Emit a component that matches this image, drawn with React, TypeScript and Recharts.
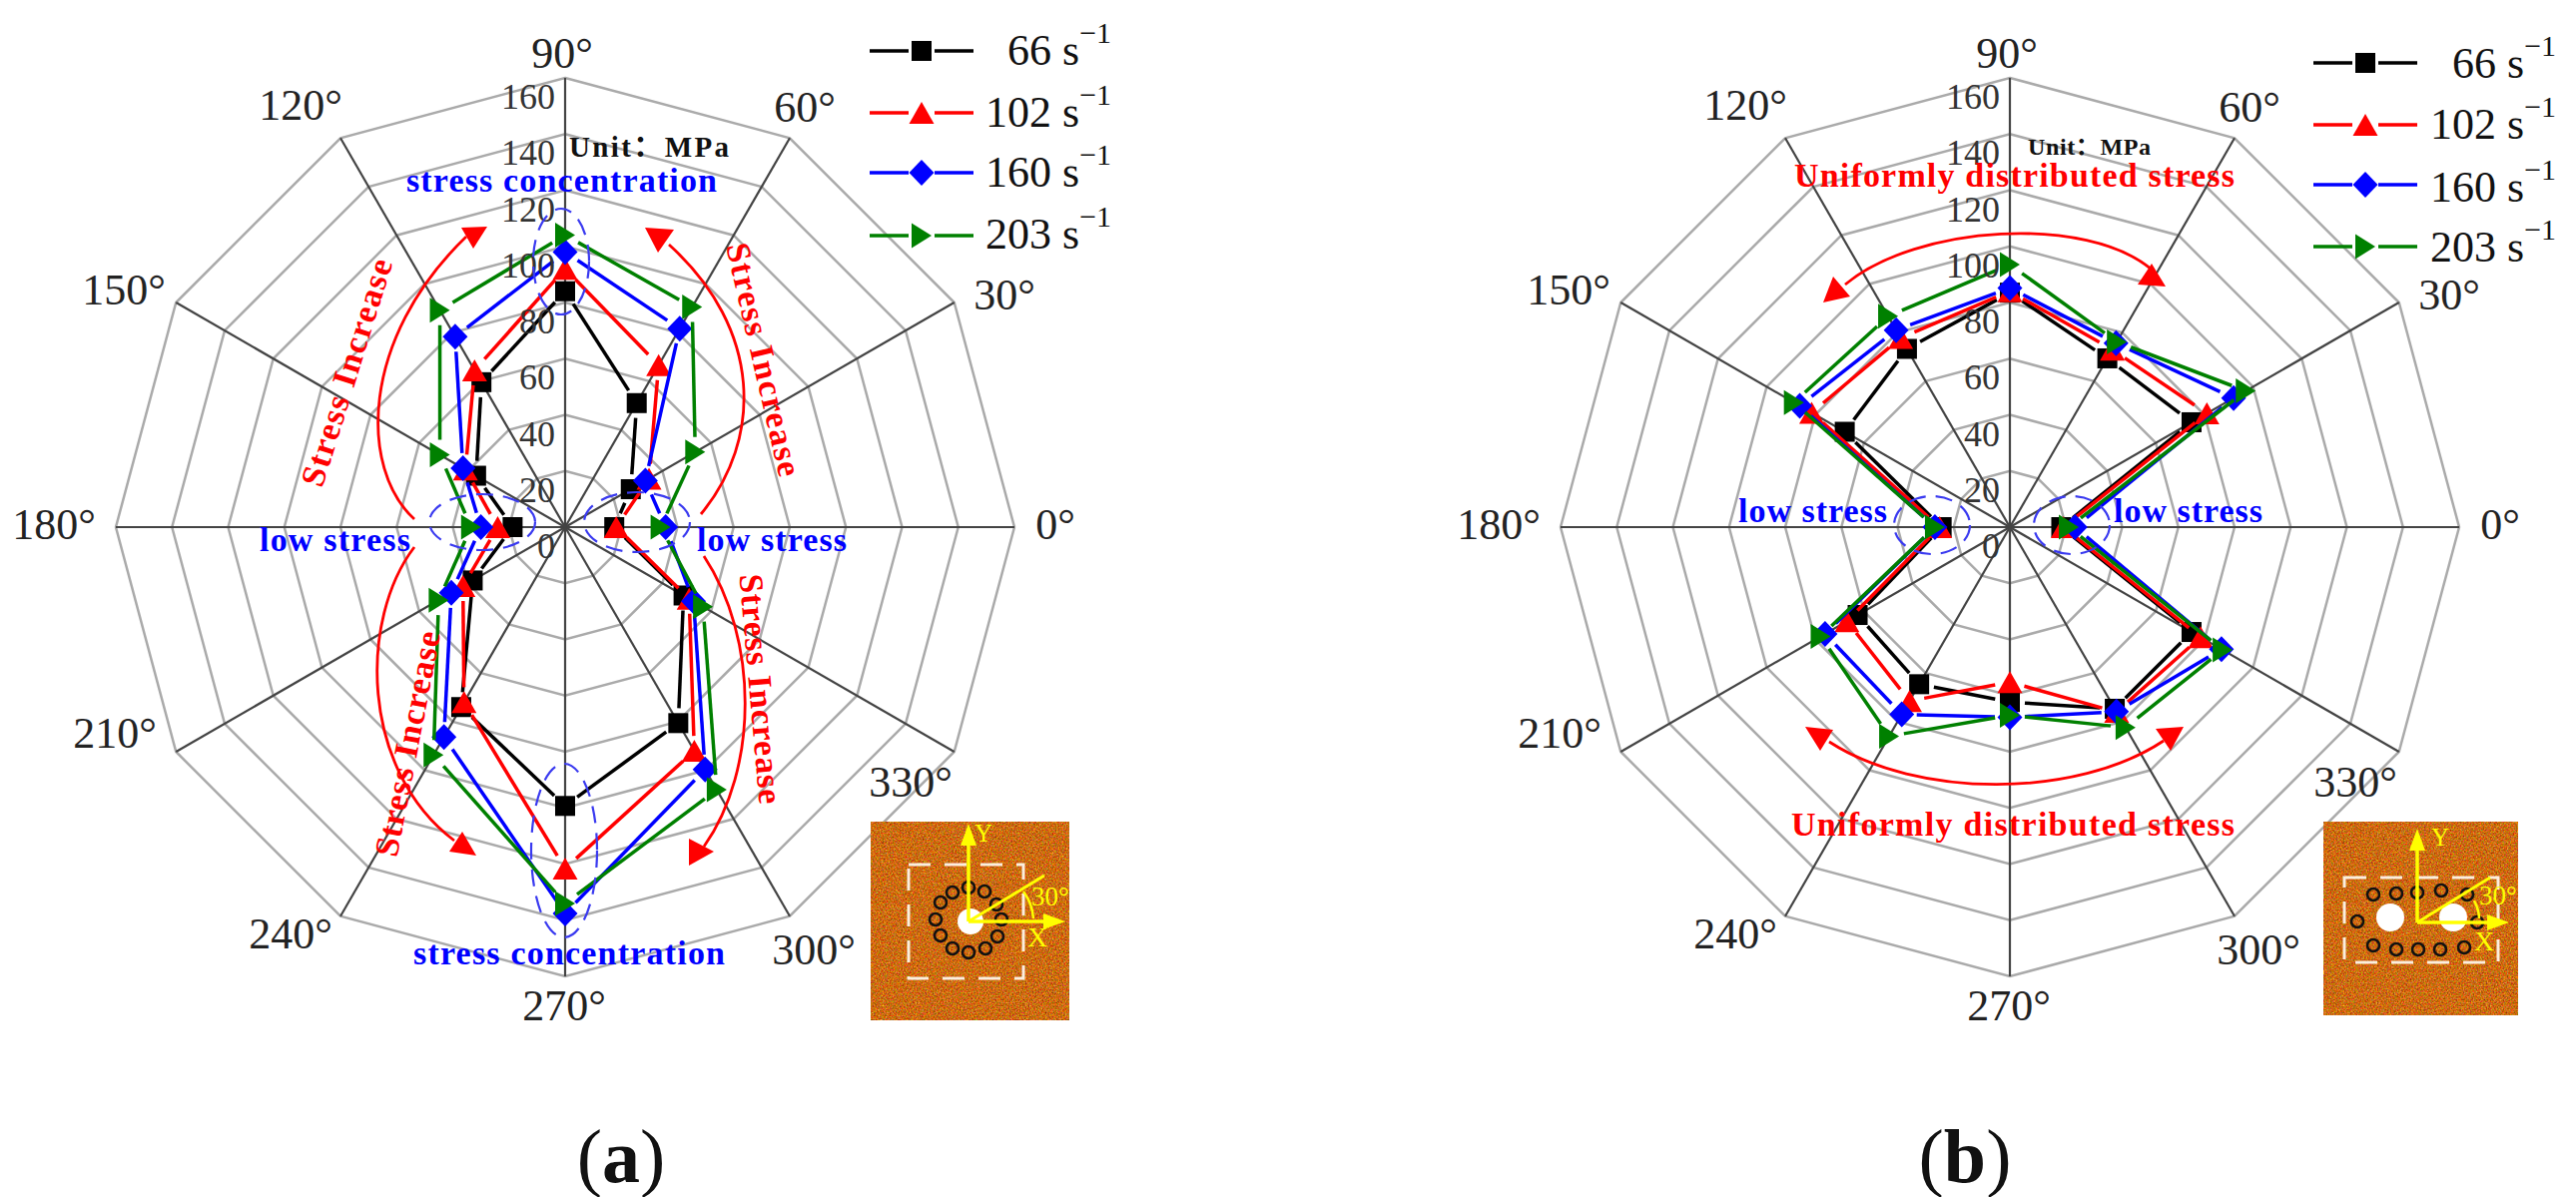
import React from 'react';
import { RadarChart, Radar, PolarGrid, PolarAngleAxis, PolarRadiusAxis } from 'recharts';

const W = 2580;
const H = 1199;
const R = 450;
const SERIF = '"Liberation Serif", "Noto Sans CJK SC", serif';

// angles clockwise from the top, same order as the value lists
const angleLabels = ['90°', '60°', '30°', '0°', '330°', '300°', '270°', '240°', '210°', '180°', '150°', '120°'];
const radiusTicks = [0, 20, 40, 60, 80, 100, 120, 140, 160];

const a66 = [84, 51, 27, 17.5, 48.7, 80.6, 99.3, 74, 38, 18.7, 36.6, 59.6];
const a102 = [92, 66.6, 34.5, 18.2, 51, 92, 121.6, 72, 42, 24, 41, 64.5];
const a160 = [98, 81.6, 33, 35.8, 52.8, 99.7, 137.6, 86.3, 46.8, 30, 42, 78.3];
const a203 = [104, 90.5, 53.5, 34, 56.7, 108, 134, 93.7, 52, 33.5, 51.5, 89.2];

const b66 = [83.5, 69.4, 74.7, 18.3, 74.7, 74.7, 62.3, 64.6, 62.6, 24.3, 67.9, 73.3];
const b102 = [84, 73, 81, 19, 78.4, 76, 55.2, 71.5, 67, 25, 81.5, 77.8];
const b160 = [85.2, 75.6, 92, 23.2, 87, 75.9, 67.7, 77, 76, 26.7, 86.4, 81];
const b203 = [93.5, 76.2, 97, 21, 87.5, 82.4, 67, 86, 77.8, 26.7, 88.8, 86.7];

const seriesNames = ['66', '102', '160', '203'];
const seriesColors = ['#000000', '#ff0000', '#0000ff', '#008000'];
const seriesMarkers = ['square', 'triangle', 'diamond', 'right'];

const tableA = angleLabels.map((angle, i) => ({ angle, s66: a66[i], s102: a102[i], s160: a160[i], s203: a203[i] }));
const tableB = angleLabels.map((angle, i) => ({ angle, s66: b66[i], s102: b102[i], s160: b160[i], s203: b203[i] }));

// where each angle label sits relative to the chart centre (middle x, baseline y)
const labelOffset: Record<string, [number, number]> = {
  '90°': [-3, -460],
  '120°': [-265, -408],
  '150°': [-442, -223],
  '180°': [-512, 12],
  '0°': [491, 12],
  '30°': [440, -218],
  '60°': [240, -406],
  '210°': [-451, 221],
  '240°': [-275, 422],
  '270°': [-1, 494],
  '300°': [249, 438],
  '330°': [346, 270],
};

function marker(kind: string, x: number, y: number, color: string) {
  if (kind === 'square') return <rect x={x - 10} y={y - 10} width={20} height={20} fill={color} />;
  if (kind === 'triangle') return <polygon points={`${x},${y - 11} ${x + 12.5},${y + 11} ${x - 12.5},${y + 11}`} fill={color} />;
  if (kind === 'diamond') return <polygon points={`${x},${y - 13} ${x + 12.5},${y} ${x},${y + 13} ${x - 12.5},${y}`} fill={color} />;
  return <polygon points={`${x - 10},${y - 12.5} ${x + 10},${y} ${x - 10},${y + 12.5}`} fill={color} />;
}

// line broken just short of each marker, like the Origin plot
function seriesShape(kind: string, color: string) {
  return (props: any) => {
    const pts = props.points;
    const gap = 15;
    return (
      <g>
        {pts.map((p: any, i: number) => {
          const q = pts[(i + 1) % pts.length];
          const len = Math.hypot(q.x - p.x, q.y - p.y);
          if (len <= gap * 2) return null;
          const ux = (q.x - p.x) / len;
          const uy = (q.y - p.y) / len;
          return (
            <line
              key={i}
              x1={p.x + ux * gap}
              y1={p.y + uy * gap}
              x2={q.x - ux * gap}
              y2={q.y - uy * gap}
              stroke={color}
              strokeWidth={3.5}
            />
          );
        })}
        {pts.map((p: any, i: number) => (
          <g key={i}>{marker(kind, p.x, p.y, color)}</g>
        ))}
      </g>
    );
  };
}

function Polar({ data, cx }: { data: any[]; cx: number }) {
  const cy = 528;
  return (
    <div style={{ position: 'absolute', left: 0, top: 0 }}>
      <RadarChart width={W} height={H} data={data} cx={cx} cy={cy} outerRadius={R} margin={{ top: 0, right: 0, bottom: 0, left: 0 }}>
        <PolarGrid gridType="polygon" radialLines={false} stroke="#aaaaaa" strokeWidth={2.5} />
        <PolarGrid gridType="polygon" polarRadius={[]} stroke="#444444" strokeWidth={2.2} />
        <PolarAngleAxis
          dataKey="angle"
          axisLine={false}
          tickLine={false}
          tick={(p: any) => {
            const [dx, dy] = labelOffset[p.payload.value];
            return (
              <text x={cx + dx} y={cy + dy} textAnchor="middle" fontFamily={SERIF} fontSize={44} fill="#222">
                {p.payload.value}
              </text>
            );
          }}
        />
        <PolarRadiusAxis
          angle={90}
          type="number"
          domain={[0, 160]}
          ticks={radiusTicks as any}
          tickCount={9}
          axisLine={false}
          tickLine={false}
          tick={(p: any) => (
            <text x={p.x - 10} y={p.y + 31} textAnchor="end" fontFamily={SERIF} fontSize={36} fill="#333">
              {p.payload.value}
            </text>
          )}
        />
        {seriesNames.map((name, i) => (
          <Radar
            key={name}
            dataKey={`s${name}`}
            fill="none"
            stroke={seriesColors[i]}
            dot={false}
            isAnimationActive={false}
            shape={seriesShape(seriesMarkers[i], seriesColors[i])}
          />
        ))}
      </RadarChart>
    </div>
  );
}

function LegendRows({ x1, x2, lineY, textEnd, baseY }: { x1: number; x2: number; lineY: number[]; textEnd: number; baseY: number[] }) {
  const mid = (x1 + x2) / 2;
  return (
    <g>
      {seriesNames.map((name, i) => (
        <g key={name}>
          <line x1={x1} y1={lineY[i]} x2={mid - 13} y2={lineY[i]} stroke={seriesColors[i]} strokeWidth={3.5} />
          <line x1={mid + 13} y1={lineY[i]} x2={x2} y2={lineY[i]} stroke={seriesColors[i]} strokeWidth={3.5} />
          {marker(seriesMarkers[i], mid, lineY[i], seriesColors[i])}
          <text x={textEnd - 121} y={baseY[i]} textAnchor="start" fontFamily={SERIF} fontSize={44} fill="#111">
            {name.length === 2 ? '\u00a0\u00a0' : ''}
            {name} s
            <tspan dy={-22} fontSize={30}>−1</tspan>
          </text>
        </g>
      ))}
    </g>
  );
}

function Note({ x, y, w, color, text, size = 34 }: { x: number; y: number; w: number; color: string; text: string; size?: number }) {
  return (
    <text x={x} y={y} fontFamily={SERIF} fontWeight="bold" fontSize={size} fill={color} textLength={w} lengthAdjust="spacing">
      {text}
    </text>
  );
}

function Turned({ x, y, rot, w, text }: { x: number; y: number; rot: number; w: number; text: string }) {
  return (
    <text
      transform={`translate(${x} ${y}) rotate(${rot})`}
      textAnchor="middle"
      dominantBaseline="central"
      fontFamily={SERIF}
      fontWeight="bold"
      fontSize={34}
      fill="#ff0000"
      textLength={w}
      lengthAdjust="spacing"
    >
      {text}
    </text>
  );
}

function Arc({ d, head }: { d: string; head: string }) {
  return (
    <g>
      <path d={d} fill="none" stroke="#ff0000" strokeWidth={2.8} />
      <polygon points={head} fill="#ff0000" />
    </g>
  );
}

function Ring({ cx, cy, rx, ry }: { cx: number; cy: number; rx: number; ry: number }) {
  return <ellipse cx={cx} cy={cy} rx={rx} ry={ry} fill="none" stroke="#3a3af0" strokeWidth={2.2} strokeDasharray="17 10" />;
}

function Plate({ x, y, w, h, dash, holes, circles, ox, oy, yTop, xEnd, ray, arc, labels }: any) {
  const yl = '#ffff00';
  return (
    <g>
      <rect x={x} y={y} width={w} height={h} filter="url(#grain)" />
      <rect x={dash[0]} y={dash[1]} width={dash[2]} height={dash[3]} fill="none" stroke="#fbeede" strokeWidth={3} strokeDasharray="22 14" />
      {holes.map((c: number[], i: number) => (
        <circle key={i} cx={c[0]} cy={c[1]} r={c[2]} fill="#fff" />
      ))}
      {circles.map((c: number[], i: number) => (
        <circle key={i} cx={c[0]} cy={c[1]} r={6} fill="none" stroke="#111" strokeWidth={2.6} />
      ))}
      <line x1={ox} y1={oy} x2={ox} y2={yTop + 15} stroke={yl} strokeWidth={3.5} />
      <polygon points={`${ox},${yTop} ${ox + 8},${yTop + 22} ${ox - 8},${yTop + 22}`} fill={yl} />
      <line x1={ox} y1={oy} x2={xEnd - 15} y2={oy} stroke={yl} strokeWidth={3.5} />
      <polygon points={`${xEnd},${oy} ${xEnd - 22},${oy + 8} ${xEnd - 22},${oy - 8}`} fill={yl} />
      <line x1={ox} y1={oy} x2={ray[0]} y2={ray[1]} stroke={yl} strokeWidth={3} />
      <path d={arc} fill="none" stroke={yl} strokeWidth={2.5} />
      {labels.map((t: any) => (
        <text key={t.s} x={t.x} y={t.y} fontFamily={SERIF} fontSize={t.f} fill={yl}>
          {t.s}
        </text>
      ))}
    </g>
  );
}

const ringACircles = [
  [970, 889], [954, 894], [942, 904], [937, 921], [942, 937], [954, 950],
  [970, 954], [987, 950], [999, 938], [1003, 921], [998, 906], [986, 893],
];
const ringBCircles = [
  [2377, 896], [2400, 895], [2421, 894], [2445, 892], [2471, 896], [2361, 923], [2481, 924],
  [2377, 947], [2400, 951], [2422, 951], [2444, 951], [2468, 949],
];

export default function App() {
  return (
    <div style={{ position: 'absolute', left: 0, top: 0, width: W, height: H, background: '#fff', overflow: 'hidden' }}>
      <Polar data={tableA} cx={566} />
      <Polar data={tableB} cx={2013} />
      <svg width={W} height={H} style={{ position: 'absolute', left: 0, top: 0 }}>
        <defs>
          <filter id="grain" x="0" y="0" width="1" height="1" colorInterpolationFilters="sRGB">
            <feTurbulence type="fractalNoise" baseFrequency="0.7" numOctaves="2" seed="4" />
            <feColorMatrix type="matrix" values="0.9 0 0 0 0.35  0 0.9 0 0 -0.03  0 0 0.9 0 -0.4  0 0 0 0 1" />
          </filter>
        </defs>

        <LegendRows x1={871} x2={975} lineY={[51, 113, 173, 236]} textEnd={1108} baseY={[65, 127, 187, 249]} />
        <LegendRows x1={2317} x2={2421} lineY={[63, 125, 185, 247]} textEnd={2555} baseY={[78, 139, 202, 262]} />

        <Note x={570} y={157} w={160} color="#111" text="Unit：MPa" size={29} />
        <Note x={2031} y={155} w={123} color="#111" text="Unit：MPa" size={24} />

        <Note x={407} y={192} w={311} color="#0000ff" text="stress concentration" />
        <Note x={414} y={966} w={312} color="#0000ff" text="stress concentration" />
        <Note x={260} y={552} w={151} color="#0000ff" text="low stress" />
        <Note x={698} y={552} w={150} color="#0000ff" text="low stress" />

        <Turned x={347} y={373} rot={-72.6} w={237} text="Stress Increase" />
        <Turned x={765} y={360} rot={77} w={239} text="Stress Increase" />
        <Turned x={408} y={745} rot={-79} w={229} text="Stress Increase" />
        <Turned x={762} y={690} rot={85} w={231} text="Stress Increase" />

        <Arc d="M415,520 C360,470 360,340 467,237" head="462,228 488,227 474,249" />
        <Arc d="M702,515 C764,440 764,330 670,245" head="646,228 675,230 659,253" />
        <Arc d="M415,548 C360,620 360,770 455,842" head="463,833 450,853 477,857" />
        <Arc d="M705,557 C760,640 760,770 705,848" head="715,853 690,840 690,867" />

        <Ring cx={562} cy={262} rx={28} ry={53} />
        <Ring cx={565} cy={852} rx={33} ry={87} />
        <Ring cx={483} cy={523} rx={53} ry={28} />
        <Ring cx={638} cy={523} rx={53} ry={30} />

        <Note x={1797} y={187} w={441} color="#ff0000" text="Uniformly distributed stress" />
        <Note x={1794} y={837} w={444} color="#ff0000" text="Uniformly distributed stress" />
        <Note x={1741} y={523} w={149} color="#0000ff" text="low stress" />
        <Note x={2117} y={523} w={149} color="#0000ff" text="low stress" />

        <Arc d="M1848,285 C1920,225 2090,215 2155,270" head="1836,277 1826,303 1853,297" />
        <Arc d="M2155,270 L2155,270" head="2155,264 2141,285 2169,287" />
        <Arc d="M1832,743 C1920,800 2080,800 2167,742" head="1808,728 1836,731 1823,752" />
        <Arc d="M2167,742 L2167,742" head="2159,730 2187,728 2174,752" />

        <Ring cx={1935} cy={526} rx={38} ry={29} />
        <Ring cx={2075} cy={526} rx={38} ry={29} />

        <Plate
          x={872} y={823} w={199} h={199}
          dash={[910, 866, 115, 114]}
          holes={[[972, 923, 13]]}
          circles={ringACircles}
          ox={970} oy={923} yTop={825} xEnd={1067}
          ray={[1046, 877]}
          arc="M1025,893 Q1034,905 1035,920"
          labels={[
            { s: 'Y', x: 976, y: 843, f: 25 },
            { s: '30°', x: 1033, y: 907, f: 27 },
            { s: 'X', x: 1029, y: 948, f: 28 },
          ]}
        />
        <Plate
          x={2327} y={823} w={195} h={194}
          dash={[2348, 879, 154, 85]}
          holes={[[2394, 919, 14], [2457, 919, 14]]}
          circles={ringBCircles}
          ox={2421} oy={924} yTop={830} xEnd={2513}
          ray={[2494, 879]}
          arc="M2478,902 Q2483,912 2483,920"
          labels={[
            { s: 'Y', x: 2435, y: 847, f: 25 },
            { s: '30°', x: 2483, y: 906, f: 27 },
            { s: 'X', x: 2478, y: 952, f: 28 },
          ]}
        />

        <text x={622} y={1184} textAnchor="middle" fontFamily={SERIF} fontSize={76} fill="#111">
          (<tspan fontWeight="bold">a</tspan>)
        </text>
        <text x={1968} y={1184} textAnchor="middle" fontFamily={SERIF} fontSize={76} fill="#111">
          (<tspan fontWeight="bold">b</tspan>)
        </text>
      </svg>
    </div>
  );
}
